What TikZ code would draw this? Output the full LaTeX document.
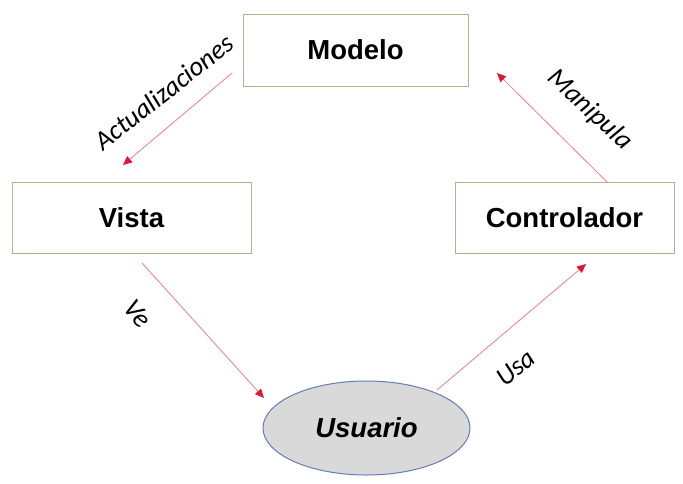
\documentclass[tikz,border=0pt]{standalone}
\usepackage{fontspec}
\setmainfont{Liberation Sans}
\newfontfamily\lblfont{Carlito}
\usetikzlibrary{shapes.geometric,arrows.meta}
\definecolor{boxline}{RGB}{165,185,145}
\definecolor{ellfill}{RGB}{217,217,217}
\definecolor{ellline}{RGB}{100,125,180}
\definecolor{arrline}{RGB}{235,125,145}
\definecolor{arrhead}{RGB}{225,20,55}
\tikzset{
  box/.style={draw=boxline, line width=1pt, fill=white, inner sep=0pt, font=\fontsize{27.5}{32}\selectfont\bfseries},
  conn/.style={draw=arrline, line width=0.8pt, -{Triangle[length=9pt,width=8pt,fill=arrhead,color=arrhead]}},
  lbl/.style={font=\lblfont\itshape\fontsize{27}{30}\selectfont, inner sep=0pt}
}
\begin{document}
\begin{tikzpicture}[x=1pt,y=-1pt]
\useasboundingbox (0,0) rectangle (683,483);
\node[box, minimum width=225pt, minimum height=72pt] (modelo) at (355.5,50) {Modelo};
\node[box, minimum width=239pt, minimum height=71pt] (vista) at (131.5,217.5) {Vista};
\node[box, minimum width=219pt, minimum height=71pt] (ctrl) at (564.5,217.5) {Controlador};
\node[draw=ellline, line width=1pt, fill=ellfill, ellipse, minimum width=207pt, minimum height=94pt, inner sep=0pt, font=\fontsize{27.5}{32}\selectfont\bfseries\itshape] (usuario) at (366.5,428) {Usuario};
\coordinate (a1) at (232,73);
\coordinate (a2) at (123,165);
\coordinate (m1) at (607,182);
\coordinate (m2) at (497,73);
\coordinate (v1) at (142,263);
\coordinate (v2) at (264,398);
\coordinate (u1) at (437,390);
\coordinate (u2) at (586,264);
\draw[conn] (a1) -- (a2);
\draw[conn] (m1) -- (m2);
\draw[conn] (v1) -- (v2);
\draw[conn] (u1) -- (u2);
\node[lbl, rotate=38] (lact) at (164,92) {Actualizaciones};
\node[lbl, rotate=-43] (lman) at (590,110) {Manipula};
\node[lbl, rotate=-52] (lve) at (138,314) {Ve};
\node[lbl, rotate=40] (lusa) at (516,368) {Usa};
\end{tikzpicture}
\end{document}
